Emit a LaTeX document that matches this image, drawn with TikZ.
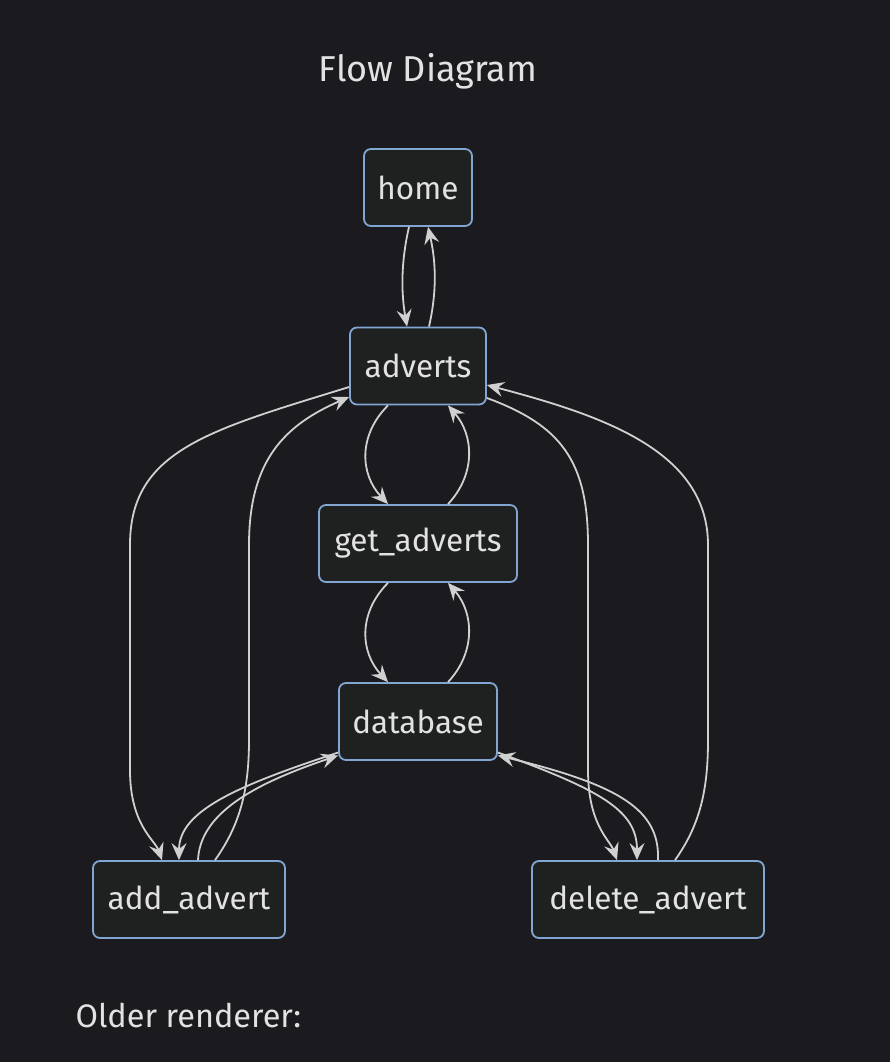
\documentclass[tikz,border=0pt]{standalone}
\usepackage{fontspec}
\setmainfont{Fira Sans}
\usepackage{tikz}
\usetikzlibrary{arrows.meta,positioning}

\definecolor{bg}{HTML}{1B1B1F}
\definecolor{boxfill}{HTML}{1F2020}
\definecolor{boxline}{HTML}{81A6D2}
\definecolor{boxtext}{HTML}{E2E2E2}
\definecolor{flowline}{HTML}{D0D0D0}

\begin{document}
\begin{tikzpicture}
      [x=1pt, y=-1pt,
       box/.style={draw=boxline, fill=boxfill, text=boxtext, rounded corners=7pt,
                   line width=1.8pt, minimum height=77pt, font=\fontsize{31.5}{34}\selectfont},
       flow/.style={draw=flowline, line width=1.8pt,
                    -{Stealth[length=17pt,width=15pt,inset=6pt]}}]
      \fill [bg] (0,0) rectangle (890,1062);
      \useasboundingbox (0,0) rectangle (890,1062);

      \node [text=boxtext, font=\fontsize{36}{40}\selectfont] (title) at (428,71) {Flow Diagram};

      \node [box, minimum width=108pt] (home)    at (418,187.5) {home};
      \node [box, minimum width=136pt] (adverts) at (418,366)   {adverts};
      \node [box, minimum width=198pt] (get)     at (418,543.5) {get\_adverts};
      \node [box, minimum width=158pt] (db)      at (418,721.5) {database};
      \node [box, minimum width=192pt] (add)     at (189,899.5) {add\_advert};
      \node [box, minimum width=232pt] (del)     at (648,899.5) {delete\_advert};

      \node [anchor=west, text=boxtext, font=\fontsize{32.5}{36}\selectfont] (older) at (72,1015) {Older renderer:};

      % middle column
      \draw [flow] ([xshift=-9pt]home.south) .. controls +(-8,35) and +(-6,-35) .. ([xshift=-11pt]adverts.north);
      \draw [flow] ([xshift=11pt]adverts.north) .. controls +(8,-35) and +(8,35) .. ([xshift=10pt]home.south);
      \draw [flow] ([xshift=-30pt]adverts.south) .. controls +(-30,30) and +(-28,-30) .. ([xshift=-30pt]get.north);
      \draw [flow] ([xshift=30pt]get.north) .. controls +(28,-30) and +(26,30) .. ([xshift=30pt]adverts.south);
      \draw [flow] ([xshift=-30pt]get.south) .. controls +(-30,30) and +(-28,-30) .. ([xshift=-30pt]db.north);
      \draw [flow] ([xshift=30pt]db.north) .. controls +(28,-30) and +(26,30) .. ([xshift=30pt]get.south);

      % left side
      \draw [flow] ([yshift=-21pt]adverts.west) .. controls (210,430) and (130,450) .. (130,545)
            -- (130,770) .. controls (130,825) and (155,840) .. ([xshift=-27pt]add.north);
      \draw [flow] ([xshift=26pt]add.north) .. controls (240,825) and (249,790) .. (249,740)
            -- (249,545) .. controls (249,460) and (285,425) .. ([yshift=-31pt]adverts.west);
      \draw [flow] ([yshift=-31pt]db.west) .. controls (240,785) and (179,810) .. ([xshift=-10pt]add.north);
      \draw [flow] ([xshift=9pt]add.north) .. controls (200,815) and (250,785) .. ([yshift=-34pt]db.west);

      % right side
      \draw [flow] ([yshift=-32pt]adverts.east) .. controls (560,425) and (588,460) .. (588,545)
            -- (588,770) .. controls (588,825) and (610,840) .. ([xshift=-31pt]del.north);
      \draw [flow] ([xshift=27pt]del.north) .. controls (700,825) and (708,790) .. (708,740)
            -- (708,545) .. controls (708,450) and (600,415) .. ([yshift=-19pt]adverts.east);
      \draw [flow] ([yshift=-31pt]db.east) .. controls (600,790) and (637,810) .. ([xshift=-11pt]del.north);
      \draw [flow] ([xshift=10pt]del.north) .. controls (660,810) and (620,785) .. ([yshift=-34pt]db.east);
    \end{tikzpicture}
\end{document}
